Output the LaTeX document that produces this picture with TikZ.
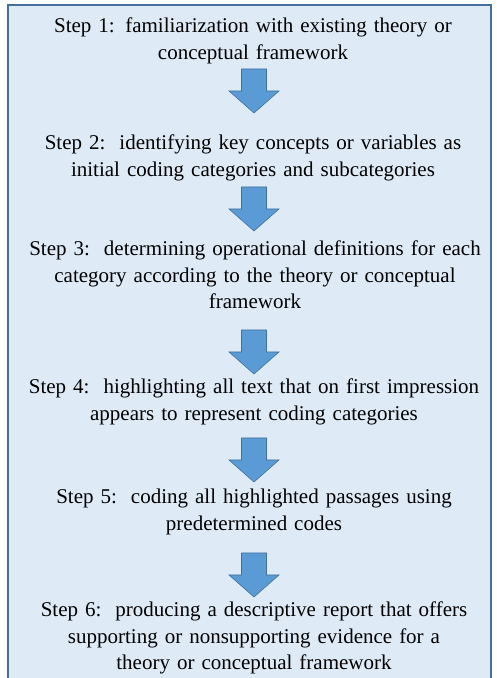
\documentclass[tikz,border=0pt]{standalone}
\usepackage{fontspec}
\setmainfont{Liberation Serif}
\definecolor{boxfill}{HTML}{DEEBF7}
\definecolor{boxline}{HTML}{41719C}
\definecolor{arrfill}{HTML}{5B9BD5}
\tikzset{
  steptext/.style={anchor=base, inner sep=0pt, text width=490pt, align=center,
    font=\fontsize{21pt}{26.5pt}\selectfont},
  arrowshape/.style={fill=arrfill, draw=boxline, line width=0.6pt},
  downarr/.pic={\path[arrowshape] (-12.5,0) -- (12.5,0) -- (12.5,-22) -- (25,-22) -- (0,-44) -- (-25,-22) -- (-12.5,-22) -- cycle;}
}
\begin{document}
\begin{tikzpicture}[x=1pt,y=1pt]
\useasboundingbox (0,0) rectangle (496,678);
\path[fill=boxfill, draw=boxline, line width=1.5pt] (8,-10) rectangle (491,673);
\node[steptext] (s1) at (253,645) {Step 1: familiarization with existing theory or\\conceptual framework};
\node[steptext] (s2) at (253,528) {Step 2:\ \ identifying key concepts or variables as\\initial coding categories and subcategories};
\node[steptext] (s3) at (255,422) {Step 3:\ \ determining operational definitions for each\\category according to the theory or conceptual\\framework};
\node[steptext] (s4) at (254,284) {Step 4:\ \ highlighting all text that on first impression\\appears to represent coding categories};
\node[steptext] (s5) at (254,174) {Step 5:\ \ coding all highlighted passages using\\predetermined codes};
\node[steptext] (s6) at (254,61) {Step 6:\ \ producing a descriptive report that offers\\supporting or nonsupporting evidence for a\\theory or conceptual framework};
\pic at (254,609) {downarr};
\pic at (254,491) {downarr};
\pic at (254,348) {downarr};
\pic at (254,240) {downarr};
\pic at (254,125) {downarr};
\end{tikzpicture}
\end{document}
